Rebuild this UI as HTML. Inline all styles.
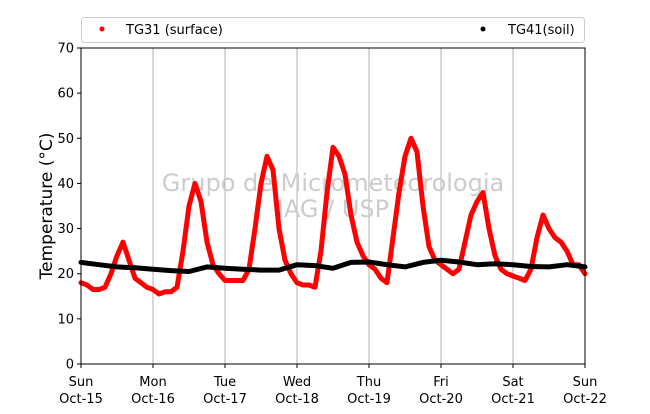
<!DOCTYPE html>
<html><head><meta charset="utf-8"><style>
body{margin:0;background:#fff;width:650px;height:409px;overflow:hidden}
text{font-family:"DejaVu Sans","Liberation Sans",sans-serif}
</style></head><body>
<svg id="chart" width="650" height="409" xmlns="http://www.w3.org/2000/svg"></svg>
<script>
const dayLabels=["Sun","Mon","Tue","Wed","Thu","Fri","Sat","Sun"];
const dateLabels=["Oct-15","Oct-16","Oct-17","Oct-18","Oct-19","Oct-20","Oct-21","Oct-22"];
const yTicks=[0,10,20,30,40,50,60,70];
// surface temperature, every 2 hours from Sun 00h
const surfaceTemp=[
18,17.5,16.5,16.5,17,20,24,27,23,19,18,17,
16.5,15.5,16,16,17,25,35,40,36,27,22,20,
18.5,18.5,18.5,18.5,21,30,40,46,43,30,23,20,
18,17.5,17.5,17,25,38,48,46,42,33,27,24,
22,21,19,18,28,38,46,50,47,35,26,23,
22,21,20,21,27,33,36,38,30,24,21,20,
19.5,19,18.5,21,28,33,30,28,27,25,22,22,20];
// soil temperature, every 6 hours
const soilTemp=[22.5,22,21.5,21.3,21,20.7,20.5,21.5,21.2,21,20.8,20.8,
22,21.8,21.2,22.5,22.6,22,21.5,22.5,23,22.6,22,22.2,22,21.6,21.5,22,21.5];
const svg=document.getElementById('chart');
const NS='http://www.w3.org/2000/svg';
const X0=81,X1=585,Y0=364,Y1=48;
const xs=h=>X0+(X1-X0)*h/168;
const ys=v=>Y0-(Y0-Y1)*v/70;
function el(t,a,p){const e=document.createElementNS(NS,t);for(const k in a)e.setAttribute(k,a[k]);(p||svg).appendChild(e);return e;}
// grid
for(let d=1;d<7;d++){
const g=el('line',{x1:xs(d*24),x2:xs(d*24),y1:Y1,y2:Y0,stroke:'#b0b0b0','stroke-width':1});


}
// watermark
const w1=el('text',{x:333,y:191,'font-size':24,fill:'#cccccc','text-anchor':'middle'});w1.textContent='Grupo de Micrometeorologia';


const w2=el('text',{x:333,y:217,'font-size':24,fill:'#cccccc','text-anchor':'middle'});w2.textContent='IAG / USP';


// series
function series(vals,step,color,name){
const pts=vals.map((v,i)=>xs(i*step).toFixed(1)+','+ys(v).toFixed(1)).join(' ');
const p=el('polyline',{points:pts,fill:'none',stroke:color,'stroke-width':5,'stroke-linejoin':'round','stroke-linecap':'round'});


}
series(surfaceTemp,2,'#ff0000','series-tg31-surface');
series(soilTemp,6,'#000000','series-tg41-soil');
// axes frame
const f=el('rect',{x:X0,y:Y1,width:X1-X0,height:Y0-Y1,fill:'none',stroke:'#000','stroke-width':1});


yTicks.forEach(v=>{
el('line',{x1:X0-4,x2:X0,y1:ys(v),y2:ys(v),stroke:'#000'});
const t=el('text',{x:X0-7,y:ys(v)+4.5,'font-size':13,'text-anchor':'end'});t.textContent=v;


});
dayLabels.forEach((d,i)=>{
const x=xs(i*24);
el('line',{x1:x,x2:x,y1:Y0,y2:Y0+4,stroke:'#000'});
const t=el('text',{x:x,y:386,'font-size':13,'text-anchor':'middle'});t.textContent=d;


const t2=el('text',{x:x,y:403,'font-size':13,'text-anchor':'middle'});t2.textContent=dateLabels[i];


});
const yl=el('text',{x:0,y:0,'font-size':17,'text-anchor':'middle',transform:'translate(52,206) rotate(-90)'});yl.textContent='Temperature (°C)';


// legend
const lg=el('rect',{x:81.5,y:17.5,width:503,height:25,rx:3,fill:'#fff',stroke:'#cccccc'});


el('circle',{cx:102,cy:29,r:2.5,fill:'#ff0000'});
const l1=el('text',{x:126,y:34,'font-size':13});l1.textContent='TG31 (surface)';


el('circle',{cx:483,cy:29,r:2.5,fill:'#000'});
const l2=el('text',{x:508,y:34,'font-size':13});l2.textContent='TG41(soil)';


</script>
</body></html>
